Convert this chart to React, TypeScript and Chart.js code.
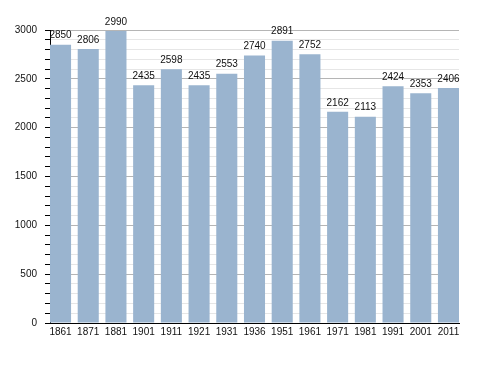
import React, { useEffect, useRef } from "react";
import { Chart, registerables } from "chart.js";

Chart.register(...registerables);

const years = ["1861", "1871", "1881", "1901", "1911", "1921", "1931", "1936", "1951", "1961", "1971", "1981", "1991", "2001", "2011"];
const population = [2850, 2806, 2990, 2435, 2598, 2435, 2553, 2740, 2891, 2752, 2162, 2113, 2424, 2353, 2406];
const yMax = 3000;
const majorStep = 500;
const minorStep = 100;

const FONT = "'Liberation Sans', Arial, Helvetica, sans-serif";

const valueLabels = {
  id: "valueLabels",
  afterDatasetsDraw(chart: any) {
    const ctx = chart.ctx;
    const meta = chart.getDatasetMeta(0);
    ctx.save();
    ctx.font = `10px ${FONT}`;
    ctx.fillStyle = "#111";
    ctx.textAlign = "center";
    ctx.textBaseline = "middle";
    meta.data.forEach((el: any, i: number) => {
      ctx.fillText(String(population[i]), el.x, el.y - 9);
    });
    ctx.restore();
  },
};

export default function App() {
  const ref = useRef<HTMLCanvasElement | null>(null);
  useEffect(() => {
    if (!ref.current) return;
    const chart = new Chart(ref.current, {
      type: "bar",
      data: {
        datasets: [
          {
            data: population.map((v, i) => ({ x: i, y: v })),
            backgroundColor: "#9ab4cf",
            borderWidth: 0,
            barPercentage: 0.76,
            categoryPercentage: 1,
          },
        ],
      },
      options: {
        animation: false,
        responsive: true,
        maintainAspectRatio: false,
        layout: { padding: { top: 30, right: 29, left: 0, bottom: 0 } },
        plugins: { legend: { display: false }, tooltip: { enabled: false } },
        scales: {
          x: {
            type: "linear",
            offset: false,
            min: -0.38,
            max: years.length - 1 + 0.38,
            grid: { display: false, drawTicks: false, offset: false },
            border: { display: true, color: "#000", width: 1 },
            afterFit(scale: any) {
              scale.height = 50;
            },
            ticks: {
              stepSize: 1,
              includeBounds: false,
              autoSkip: false,
              maxRotation: 0,
              padding: 3,
              color: "#111",
              font: { family: FONT, size: 10 },
              callback: (v: any) => (Number.isInteger(v) && years[v] ? years[v] : ""),
            },
          },
          y: {
            min: 0,
            max: yMax,
            grid: {
              color: (c: any) => (c.tick && c.tick.value % majorStep === 0 ? "#b5b5b5" : "#e6e6e6"),
              tickColor: "#000",
              tickLength: 5,
              drawTicks: true,
            },
            border: { display: true, color: "#000", width: 1 },
            afterFit(scale: any) {
              scale.width = 50;
            },
            ticks: {
              stepSize: minorStep,
              autoSkip: false,
              padding: 8,
              color: "#111",
              font: { family: FONT, size: 10 },
              callback: (v: any) => (v % majorStep === 0 ? String(v) : ""),
            },
          },
        },
      },
      plugins: [valueLabels],
    } as any);
    return () => chart.destroy();
  }, []);
  return (
    <div style={{ position: "absolute", left: 0, top: 0, width: 488, height: 373, background: "#fff" }}>
      <canvas ref={ref} />
    </div>
  );
}
